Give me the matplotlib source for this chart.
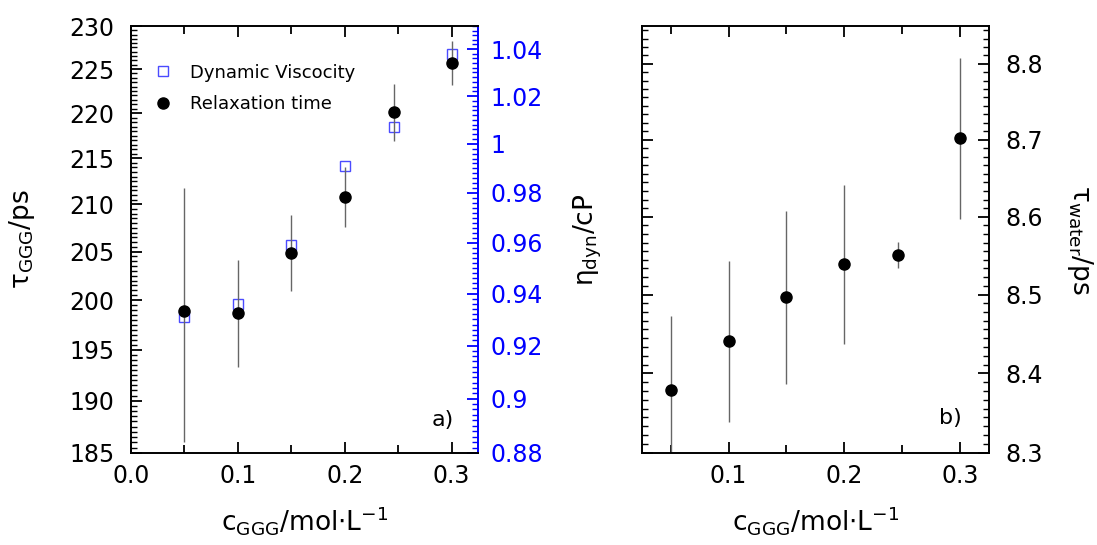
import numpy as np
import matplotlib
matplotlib.use("Agg")
import matplotlib.pyplot as plt
from matplotlib.ticker import FixedLocator, FormatStrFormatter, NullFormatter
from matplotlib.lines import Line2D

# ---- data ----
conc = [0.05, 0.10, 0.15, 0.20, 0.246, 0.30]
tau_ggg = [198.9, 198.7, 204.9, 210.8, 220.1, 225.7]
tau_ggg_err = [12.9, 5.4, 4.0, 3.2, 3.2, 2.5]
eta_dyn = [0.931, 0.936, 0.959, 0.991, 1.007, 1.038]
tau_water = [8.379, 8.441, 8.497, 8.539, 8.551, 8.702]
tau_water_err = [0.093, 0.102, 0.111, 0.102, 0.017, 0.105]

left_yticks = [185, 190, 195, 200, 205, 210, 215, 220, 225, 230]
blue_yticks = [0.88, 0.90, 0.92, 0.94, 0.96, 0.98, 1.00, 1.02, 1.04]
water_yticks = [8.3, 8.4, 8.5, 8.6, 8.7, 8.8]
xticks_a = [0.0, 0.1, 0.2, 0.3]
xticks_b = [0.1, 0.2, 0.3]

plt.rcParams['font.family'] = ['DejaVu Sans']
plt.rcParams['mathtext.default'] = 'regular'

BLUE = '#0000ff'
SQ = '#4b4bff'
ERR = '#666666'
TICK_FS = 17
LAB_FS = 19

fig = plt.figure(figsize=(10.97, 5.45), dpi=100)
W, H = 1097, 545
def rect(x0, x1, ytop, ybot):
    return [x0 / W, 1 - ybot / H, (x1 - x0) / W, (ybot - ytop) / H]

# ---------------- panel a ----------------
ax2 = fig.add_axes(rect(131, 478.3, 26, 453))
ax = fig.add_axes(rect(131, 478.3, 26, 453), sharex=ax2)
ax.set_zorder(ax2.get_zorder() + 1)
ax.patch.set_visible(False)

# viscosity on ax2 (right, blue)
ax2.plot(conc, eta_dyn, linestyle='none', marker='s', markersize=6.5,
         markerfacecolor='none', markeredgecolor=SQ, markeredgewidth=1.0)
ax2.set_yscale('log')
ax2.set_ylim(0.88, 1.05)
ax2.yaxis.tick_right()
ax2.yaxis.set_label_position('right')
ax2.yaxis.set_major_locator(FixedLocator(blue_yticks))
ax2.yaxis.set_major_formatter(FormatStrFormatter('%g'))
ax2.yaxis.set_minor_locator(FixedLocator(np.arange(0.88, 1.0501, 0.002)))
ax2.yaxis.set_minor_formatter(NullFormatter())
ax2.tick_params(axis='y', which='both', colors=BLUE, labelcolor=BLUE,
                direction='in', labelsize=TICK_FS, left=False, right=True)
ax2.tick_params(axis='y', which='major', length=8, width=1.3, pad=9)
ax2.tick_params(axis='y', which='minor', length=4, width=1.0)
ax2.set_ylabel(r'$\eta_{dyn}$/cP', fontsize=LAB_FS, color='black')
ax2.yaxis.set_label_coords(1.27, 0.5)
for s in ['left', 'top', 'bottom']:
    ax2.spines[s].set_visible(False)
ax2.spines['right'].set_color(BLUE)
ax2.spines['right'].set_linewidth(1.4)
ax2.tick_params(axis='x', which='both', bottom=False, top=False, labelbottom=False)

# relaxation time on ax (left, black)
ax.errorbar(conc, tau_ggg, yerr=tau_ggg_err, fmt='o', color='black',
            markersize=8, ecolor=ERR, elinewidth=1.0, capsize=0)
ax.set_yscale('log')
ax.set_ylim(185, 230)
ax.set_xlim(0.0, 0.325)
ax.yaxis.set_major_locator(FixedLocator(left_yticks))
ax.yaxis.set_major_formatter(FormatStrFormatter('%g'))
ax.yaxis.set_minor_locator(FixedLocator(np.arange(185, 230.01, 0.5)))
ax.yaxis.set_minor_formatter(NullFormatter())
ax.xaxis.set_major_locator(FixedLocator(xticks_a))
ax.xaxis.set_major_formatter(FormatStrFormatter('%.1f'))
ax.xaxis.set_minor_locator(FixedLocator([0.05, 0.15, 0.25]))
ax.tick_params(axis='both', which='both', direction='in', labelsize=TICK_FS,
               left=True, right=False, top=True, bottom=True)
ax.tick_params(axis='both', which='major', length=8, width=1.3)
ax.tick_params(axis='y', which='minor', length=4, width=1.0)
ax.tick_params(axis='y', which='major', pad=12)
ax.tick_params(axis='x', which='minor', length=6, width=1.3)
ax.tick_params(axis='x', which='major', pad=8)
ax.spines['right'].set_visible(False)
for s in ['left', 'top', 'bottom']:
    ax.spines[s].set_linewidth(1.4)
ax.set_ylabel(r'$\tau_{GGG}$/ps', fontsize=LAB_FS)
ax.yaxis.set_label_coords(-0.27, 0.5)
ax.set_xlabel(r'$c_{GGG}$/mol$\cdot$L$^{-1}$', fontsize=LAB_FS)
ax.xaxis.set_label_coords(0.5, -0.12)
ax.text(0.897, 0.077, 'a)', transform=ax.transAxes, fontsize=16,
        ha='center', va='center')

handles = [Line2D([], [], linestyle='none', marker='s', markersize=6.5,
                  markerfacecolor='none', markeredgecolor=SQ, markeredgewidth=1.0),
           Line2D([], [], linestyle='none', marker='o', markersize=8, color='black')]
ax.legend(handles, ['Dynamic Viscocity', 'Relaxation time'], loc='upper left',
          bbox_to_anchor=(0.02, 0.95), frameon=False, fontsize=13,
          handlelength=1.0, handletextpad=1.0, labelspacing=0.75)

# ---------------- panel b ----------------
bx = fig.add_axes(rect(641.7, 989, 26, 453))
bx.errorbar(conc, tau_water, yerr=tau_water_err, fmt='o', color='black',
            markersize=8, ecolor=ERR, elinewidth=1.0, capsize=0)
bx.set_yscale('log')
bx.set_ylim(8.3, 8.85)
bx.set_xlim(0.025, 0.325)
bx.yaxis.set_major_locator(FixedLocator(water_yticks))
bx.yaxis.set_major_formatter(FormatStrFormatter('%.1f'))
bx.yaxis.set_minor_locator(FixedLocator(np.arange(8.3, 8.8501, 0.1 / 9)))
bx.yaxis.set_minor_formatter(NullFormatter())
bx.yaxis.tick_right()
bx.yaxis.set_label_position('right')
bx.xaxis.set_major_locator(FixedLocator(xticks_b))
bx.xaxis.set_major_formatter(FormatStrFormatter('%.1f'))
bx.xaxis.set_minor_locator(FixedLocator([0.05, 0.15, 0.25]))
bx.tick_params(axis='both', which='both', direction='in', labelsize=TICK_FS,
               left=True, right=True, top=True, bottom=True)
bx.tick_params(axis='both', which='major', length=8, width=1.3)
bx.tick_params(axis='y', which='minor', length=4, width=1.0)
bx.tick_params(axis='y', which='major', pad=12)
bx.tick_params(axis='x', which='minor', length=6, width=1.3)
bx.tick_params(axis='x', which='major', pad=8)
for s in bx.spines.values():
    s.set_linewidth(1.4)
bx.set_ylabel(r'$\tau_{water}$/ps', fontsize=LAB_FS, rotation=270, va='center')
bx.yaxis.set_label_coords(1.262, 0.5)
bx.set_xlabel(r'$c_{GGG}$/mol$\cdot$L$^{-1}$', fontsize=LAB_FS)
bx.xaxis.set_label_coords(0.5, -0.12)
bx.text(0.89, 0.082, 'b)', transform=bx.transAxes, fontsize=16,
        ha='center', va='center')

fig.savefig('out.png', dpi=100)
